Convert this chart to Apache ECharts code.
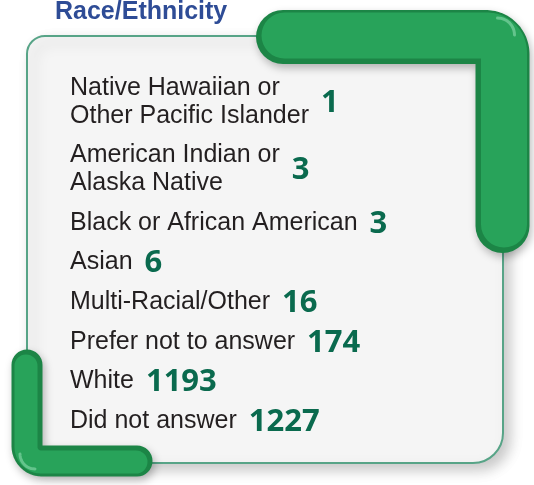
<!DOCTYPE html>
<html>
<head>
<meta charset="utf-8">
<title>Race/Ethnicity</title>
<script src="https://cdn.jsdelivr.net/npm/echarts@6/dist/echarts.min.js"></script>
<style>
  html, body { margin: 0; padding: 0; background: #fff; }
  #chart { width: 534px; height: 485px; }
</style>
</head>
<body>
<div id="chart"></div>
<script>
"use strict";

// datos del cuadro
const chartTitle = 'Race/Ethnicity';
const categories = [
    'Native Hawaiian or\nOther Pacific Islander',
    'American Indian or\nAlaska Native',
    'Black or African American',
    'Asian',
    'Multi-Racial/Other',
    'Prefer not to answer',
    'White',
    'Did not answer'
];
const counts = [1, 3, 3, 6, 16, 174, 1193, 1227];

const labelFont = '25px "Liberation Sans", Arial, sans-serif';
const valueFont = 'bold 31px "Open Sans", sans-serif';

// medir texto para colocar el numero despues de la etiqueta
const measureCtx = document.createElement('canvas').getContext('2d');
function textWidth(s, font) {
    measureCtx.font = font;
    return measureCtx.measureText(s).width;
}

// filas de dos lineas ocupan mas alto
const rowUnits = categories.map(c => 1 + (c.split('\n').length - 1) * 0.69);
let acc = 0;
const rowCenters = rowUnits.map(u => {
    const c = acc + u / 2;
    acc += u;
    return c;
});
const totalUnits = acc;

// puntos de una escuadra con esquina redondeada
function bracketPoints(start, corner, end, r, a0, a1) {
    const cx = corner[0], cy = corner[1];
    const pts = [start];
    for (let k = 0; k <= 12; k++) {
        const a = (a0 + (a1 - a0) * k / 12) * Math.PI / 180;
        pts.push([cx + r * Math.cos(a), cy + r * Math.sin(a)]);
    }
    pts.push(end);
    return pts;
}

const trPts = bracketPoints([283, 37], [502.5 - 17, 37 + 17], [502.5, 226], 17, -90, 0);
const blPts = bracketPoints([27, 365], [27 + 15, 461 - 15], [137, 461], 15, 180, 90);

function bracketLayers(pts, width, shift, hl) {
    return [
        {
            type: 'polyline', z: 10,
            shape: { points: pts },
            style: {
                stroke: '#1c8546', lineWidth: width, lineCap: 'round', lineJoin: 'round', fill: null,
                shadowBlur: 8, shadowColor: 'rgba(0,0,0,0.28)', shadowOffsetX: 2, shadowOffsetY: 4
            }
        },
        {
            type: 'polyline', z: 11, x: shift[0], y: shift[1],
            shape: { points: pts },
            style: {
                stroke: '#28a35a', lineWidth: width - 8, lineCap: 'round', lineJoin: 'round', fill: null
            }
        },
        {
            type: 'polyline', z: 12, x: hl[0], y: hl[1],
            shape: { points: pts.slice(1, pts.length - 1) },
            style: {
                stroke: 'rgba(160,230,190,0.5)', lineWidth: 3, lineCap: 'round', lineJoin: 'round', fill: null
            }
        }
    ];
}

const chart = echarts.init(document.getElementById('chart'));

const option = {
    backgroundColor: '#ffffff',
    title: {
        text: chartTitle,
        left: 50,
        top: -5,
        textStyle: {
            fontFamily: '"Liberation Sans", Arial, sans-serif',
            fontSize: 25,
            fontWeight: 'bold',
            color: '#2e4c96'
        }
    },
    grid: { left: 70, right: 30, top: 69, bottom: 44 },
    xAxis: { type: 'value', min: 0, max: 1, show: false },
    yAxis: { type: 'value', min: 0, max: totalUnits, inverse: true, show: false },
    graphic: [
        {
            type: 'rect', z: 1,
            shape: { x: 27, y: 36, width: 476, height: 427, r: [18, 18, 30, 18] },
            style: {
                fill: '#f5f5f5', stroke: '#57a487', lineWidth: 2,
                shadowBlur: 14, shadowColor: 'rgba(0,0,0,0.22)', shadowOffsetX: 6, shadowOffsetY: 6
            }
        }
    ]
        .concat(bracketLayers(trPts, 54, [1.5, -1.5], [12, -19]))
        .concat(bracketLayers(blPts, 31, [-1, 1], [-7, 8])),
    series: [{
        type: 'custom',
        z: 5,
        clip: false,
        encode: { x: 0, y: 1 },
        data: categories.map((c, i) => [0, rowCenters[i], counts[i], i]),
        renderItem: (params, api) => {
            const i = api.value(3);
            const pt = api.coord([0, api.value(1)]);
            const lines = categories[i].split('\n');
            const w = Math.max.apply(null, lines.map(l => textWidth(l, labelFont)));
            return {
                type: 'group',
                children: [
                    {
                        type: 'text', x: pt[0], y: pt[1],
                        style: {
                            text: categories[i], font: labelFont, fill: '#231f20',
                            align: 'left', verticalAlign: 'middle', lineHeight: 28
                        }
                    },
                    {
                        type: 'text', x: pt[0] + w + 12, y: pt[1] + 1,
                        style: {
                            text: String(api.value(2)), font: valueFont, fill: '#0a6a4e',
                            align: 'left', verticalAlign: 'middle'
                        }
                    }
                ]
            };
        }
    }]
};

chart.setOption(option);
</script>
</body>
</html>
